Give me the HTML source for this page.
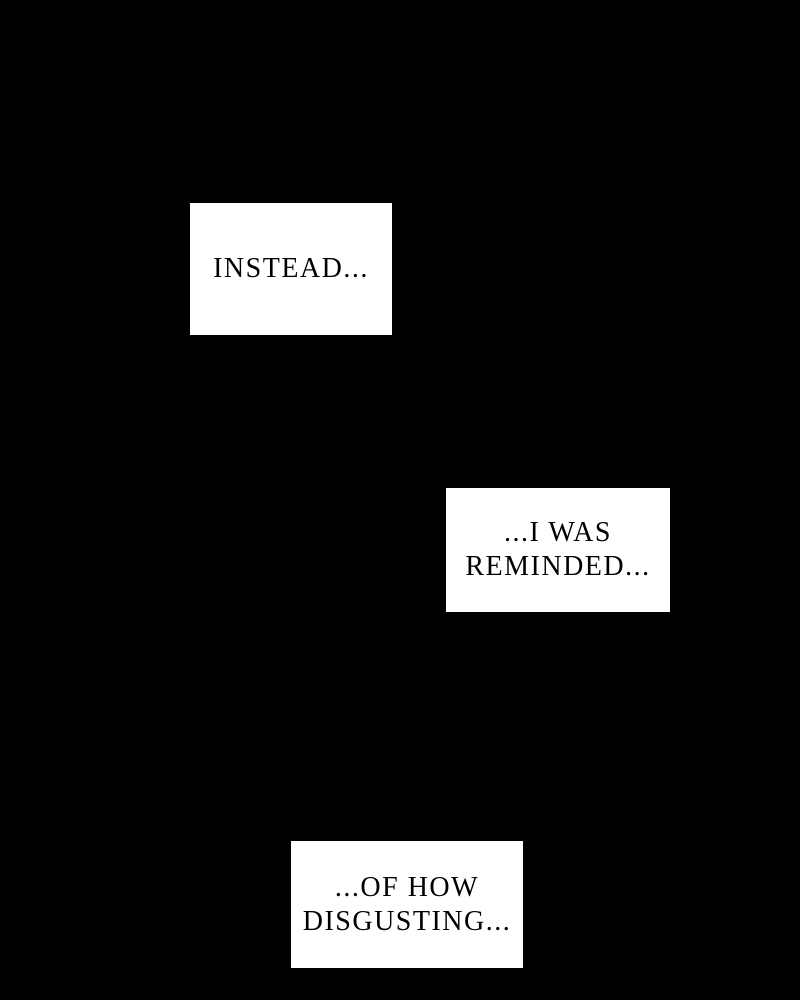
<!DOCTYPE html>
<html><head><style>
html,body{margin:0;padding:0;background:#000;width:800px;height:1000px;overflow:hidden}
.b{position:absolute;background:#fff;color:#000;font-family:"Liberation Serif",serif;font-size:28px;line-height:34px;text-align:center;display:flex;align-items:center;justify-content:center;letter-spacing:1.5px}
</style></head><body>
<div class="b" style="left:190px;top:203px;width:202px;height:132px">INSTEAD...</div>
<div class="b" style="left:446px;top:488px;width:224px;height:124px">...I WAS<br>REMINDED...</div>
<div class="b" style="left:291px;top:841px;width:232px;height:127px">...OF HOW<br>DISGUSTING...</div>
</body></html>
